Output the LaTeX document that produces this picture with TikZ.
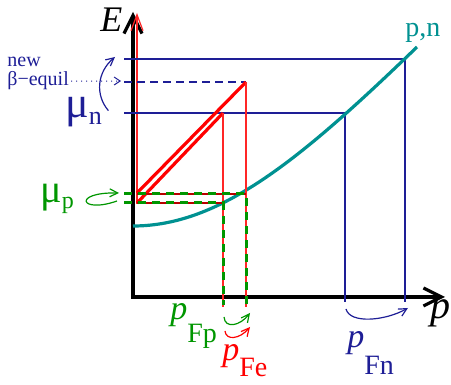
\documentclass[tikz,border=0pt]{standalone}
\usepackage{fontspec}
\setmainfont{Liberation Serif}
\usetikzlibrary{arrows.meta}

\definecolor{nblue}{RGB}{30,30,150}
\definecolor{ngreen}{RGB}{0,150,0}
\definecolor{nteal}{RGB}{0,145,145}
\definecolor{dred}{RGB}{185,0,0}

\newcommand{\lowtext}[3]{\raisebox{-#1}{\fontsize{#2}{#2}\selectfont #3}}

\begin{document}
\begin{tikzpicture}[
  x=0.5pt, y=-0.5pt,
  axisline/.style={line width=1.6pt, {Straight Barb[length=9pt,width=9pt]}-{Straight Barb[length=9pt,width=9pt]}},
  nline/.style={nblue, line width=0.8pt},
  newline/.style={nblue, line width=0.8pt, dash pattern=on 4pt off 2.5pt},
  ladder/.style={red, line width=1.6pt},
  thinred/.style={red!85!white, line width=0.6pt},
  rung/.style={dred, line width=0.6pt},
  pdash/.style={ngreen, line width=1.5pt, dash pattern=on 4pt off 3pt},
  disp/.style={nteal, line width=1.6pt},
  tag/.style={anchor=base west, inner sep=0pt},
  hint/.style={line width=0.6pt, -{Straight Barb[length=4pt,width=4pt]}}
]
\useasboundingbox (0,0) rectangle (451,385);

% axes
\coordinate (O) at (133,297);
\coordinate (Etop) at (133,12);
\coordinate (pend) at (445,297);
\draw[axisline] (Etop) -- (O) -- (pend);
\draw[thinred, -{Straight Barb[length=8pt,width=6pt]}] (137,204) -- (137,13);

% neutron levels
\coordinate (nF) at (405,59);
\coordinate (nold) at (345,113);
\draw[nline] (124,59) -- (nF) -- (405,302);
\draw[nline] (124,113) -- (nold) -- (345,302);
\draw[newline] (124,82) -- (246,82);

% dispersion
\draw[disp] (133,226) .. controls (220,226) and (300,160) .. (417,47);

% electrons
\draw[ladder] (137,193) -- (246,82);
\draw[ladder] (137,203) -- (223,113);
\draw[thinred] (246,82) -- (246,307);
\draw[thinred] (223,113) -- (223,307);
\draw[rung] (137,194) -- (246,194);
\draw[rung] (137,203) -- (223,203);

% protons
\draw[pdash] (124,194) -- (246,194) -- (246,305);
\draw[pdash] (124,203) -- (223,203) -- (223,305);

% labels
\node[tag, font=\fontsize{18}{18}\selectfont] (elbl) at (100,32) {\textit{E}};
\node[tag, font=\fontsize{20}{20}\selectfont] (plbl) at (430,319) {\textit{p}};
\node[tag, nteal, font=\fontsize{14}{14}\selectfont] (pnlbl) at (405,37) {p,n};
\node[tag, nblue, font=\fontsize{10}{10}\selectfont] (newlbl) at (7,67) {new};
\node[tag, nblue, font=\fontsize{10}{10}\selectfont] (betalbl) at (7,86) {β−equil};
\node[tag, nblue, font=\fontsize{22}{22}\selectfont] (munlbl) at (65,118) {μ\lowtext{3.5pt}{13}{n}};
\node[tag, ngreen, font=\fontsize{20}{20}\selectfont] (muplbl) at (40,203) {μ\lowtext{3pt}{12}{p}};
\node[tag, ngreen, font=\fontsize{17}{17}\selectfont] (pfplbl) at (170,320) {\textit{p}\lowtext{11.5pt}{14}{Fp}};
\node[tag, red, font=\fontsize{17}{17}\selectfont] (pfelbl) at (222,361) {\textit{p}\lowtext{8pt}{14}{Fe}};
\node[tag, nblue, font=\fontsize{17}{17}\selectfont] (pfnlbl) at (347,348) {\textit{p}\lowtext{13.5pt}{14}{Fn}};

% hint arrows
\coordinate (newtip) at (115,57);
\coordinate (dotend) at (121,81);
\draw[hint, nblue] ([xshift=3pt,yshift=1pt]munlbl.east) .. controls (95,95) and (97,72) .. (newtip);
\draw[nblue, line width=0.5pt, dotted, -{Straight Barb[length=3pt,width=4pt]}] ([xshift=1pt]betalbl.east) -- (dotend);
\coordinate (curla) at (117,201);
\coordinate (curlb) at (119,193);
\draw[hint, ngreen] (curla) .. controls (80,214) and (72,192) .. (curlb);
\coordinate (fpa) at (224,317);
\coordinate (fpb) at (250,313);
\draw[hint, ngreen] (fpa) .. controls (225,329) and (240,326) .. (fpb);
\coordinate (fea) at (225,331);
\coordinate (feb) at (250,327);
\draw[hint, red] (fea) .. controls (226,341) and (240,339) .. (feb);
\coordinate (fna) at (346,309);
\coordinate (fnb) at (408,308);
\draw[hint, nblue] (fna) .. controls (350,324) and (385,321) .. (fnb);
\end{tikzpicture}
\end{document}
